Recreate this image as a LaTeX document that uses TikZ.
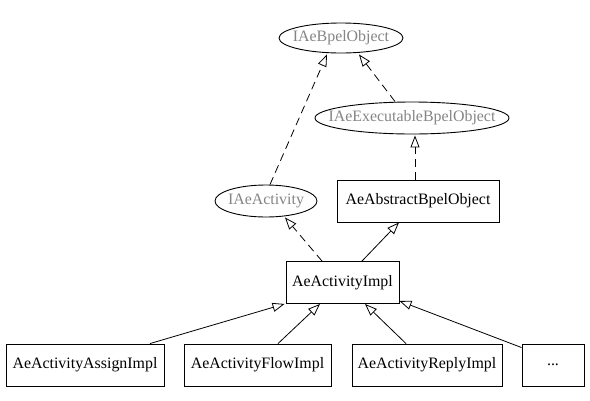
\documentclass[tikz,border=0pt]{standalone}
\usepackage{fontspec}
\setmainfont{Liberation Serif}
\usetikzlibrary{shapes.geometric,arrows.meta}
\definecolor{ifacegray}{HTML}{858585}
\tikzset{
  every node/.style={font=\fontsize{15.9}{18}\selectfont},
  iface/.style={draw, ellipse, line width=0.9pt, inner sep=0pt, text=ifacegray},
  cls/.style={draw, rectangle, line width=0.9pt, inner xsep=2pt, inner ysep=0pt, minimum height=42pt},
  impl/.style={line width=0.8pt, -{Triangle[open, length=12pt, width=9pt]}},
  realize/.style={impl, dash pattern=on 8pt off 5pt},
}
\begin{document}
\begin{tikzpicture}[x=1pt, y=-1pt]
\useasboundingbox (0,0) rectangle (590,400);
% interfaces
\node[iface, minimum width=124pt, minimum height=30pt] (bpel) at (341,38) {\makebox[0pt]{IAeBpelObject}};
\node[iface, minimum width=194pt, minimum height=32pt] (exec) at (412,118) {\makebox[0pt]{IAeExecutableBpelObject}};
\node[iface, minimum width=102pt, minimum height=32pt] (act) at (266,201) {\makebox[0pt]{IAeActivity}};
% classes
\node[cls, minimum width=162pt] (abs) at (418,201) {AeAbstractBpelObject};
\node[cls, minimum width=113pt] (impl) at (342.5,282.5) {AeActivityImpl};
\node[cls, minimum width=158pt] (assign) at (85,365) {AeActivityAssignImpl};
\node[cls, minimum width=147pt] (flow) at (257.5,365) {AeActivityFlowImpl};
\node[cls, minimum width=150pt] (reply) at (427,365) {AeActivityReplyImpl};
\node[cls, minimum width=62pt] (dots) at (553,365) {...};
% connectors
\draw[realize] ([xshift=4pt]act.north) -- ([xshift=-14pt,yshift=-1pt]bpel.south);
\draw[realize] ([xshift=-17pt]exec.north) -- ([xshift=18pt,yshift=-1pt]bpel.south);
\draw[realize] ([xshift=-3pt]abs.north) -- ([xshift=3pt,yshift=-1pt]exec.south);
\draw[realize] ([xshift=-20.5pt]impl.north) -- ([xshift=19pt]act.south);
\draw[impl] ([xshift=19.5pt]impl.north) -- ([xshift=-19pt]abs.south);
\draw[impl] ([xshift=65pt]assign.north) -- ([xshift=-1pt]impl.south west);
\draw[impl] ([xshift=20.5pt]flow.north) -- ([xshift=-22.5pt]impl.south);
\draw[impl] ([xshift=-21pt]reply.north) -- ([xshift=22.5pt]impl.south);
\draw[impl] ([yshift=-4pt]dots.north west) -- ([yshift=3pt]impl.south east);
\end{tikzpicture}
\end{document}
